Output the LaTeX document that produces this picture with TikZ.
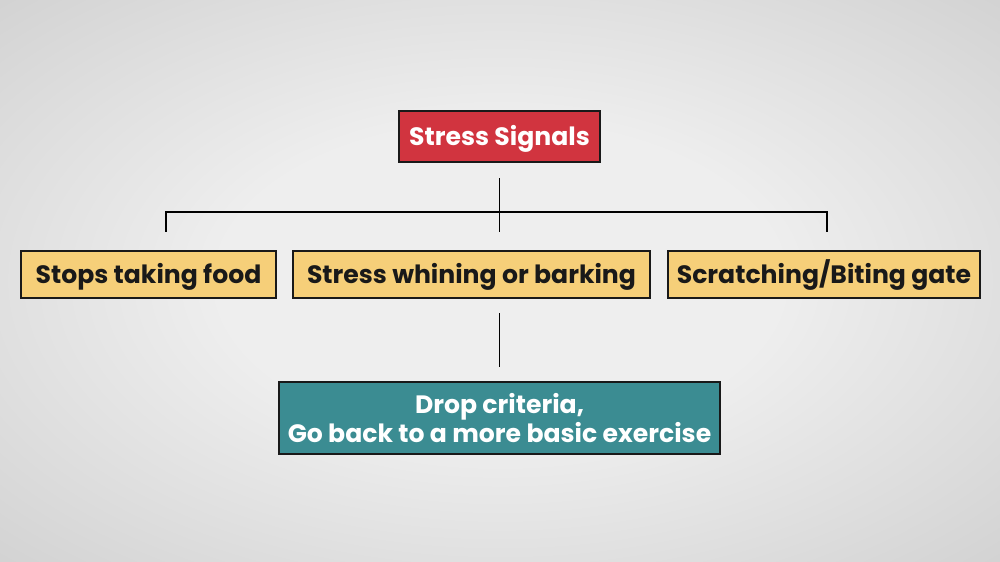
\documentclass[tikz,border=0pt]{standalone}
\usepackage{fontspec}
\setmainfont{Poppins}
\usetikzlibrary{positioning, calc}
\definecolor{SigRed}{HTML}{D1343F}
\definecolor{SigGold}{HTML}{F6CF79}
\definecolor{SigTeal}{HTML}{3B8C92}
\definecolor{SteelEdge}{HTML}{A8A8A8}
\definecolor{SteelCorner}{HTML}{8E8E8E}
\definecolor{SteelRing}{HTML}{D2D2D2}
\definecolor{SteelMid}{HTML}{EEEEEE}
\pgfdeclareradialshading{steel}{\pgfpoint{0bp}{0bp}}{color(0bp)=(SteelMid); color(14bp)=(SteelMid);
  color(36bp)=(SteelRing); color(52bp)=(SteelEdge); color(72bp)=(SteelCorner)}
\begin{document}
\begin{tikzpicture}[line width=1.1pt,
  box/.style={draw=black!90, line width=1.2pt, fill=SigGold, text=black!90,
              minimum height=0.94cm, font=\fontsize{14.3}{15}\selectfont\bfseries,
              align=center, inner sep=0pt, text height=11.4pt, text depth=1.4pt}]
  \shade[shading=steel] (0,0) rectangle (20,11.22);
  \useasboundingbox (0,0) rectangle (20,11.22);
  \node[box, fill=SigRed, text=white, minimum width=4.02cm, minimum height=1.02cm] (sig) at (9.99, 8.49) {Stress Signals};
  \node[box, minimum width=5.1cm] (food) at (2.97, 5.73) {Stops taking food};
  \node[box, minimum width=7.14cm] (whine) at (9.43, 5.73) {Stress whining or barking};
  \node[box, minimum width=6.24cm] (gate) at (16.48, 5.73) {Scratching/Biting gate};
  \node[box, fill=SigTeal, text=white, minimum width=8.82cm, minimum height=1.44cm,
        text height={}, text depth={}] (drop) at (9.99, 2.86)
    {Drop criteria,\\Go back to a more basic exercise};
  \coordinate (lft) at (3.32, 6.98);
  \coordinate (rgt) at (16.54, 6.98);
  \draw ($(sig.south)+(0,-0.3)$) -- ($(sig.south |- whine.north)+(0,0.36)$);
  \draw ($(lft |- food.north)+(0,0.36)$) -- (lft) -- (rgt) -- ($(rgt |- gate.north)+(0,0.36)$);
  \draw ($(drop.north |- whine.south)+(0,-0.28)$) -- ($(drop.north)+(0,0.28)$);
\end{tikzpicture}
\end{document}
